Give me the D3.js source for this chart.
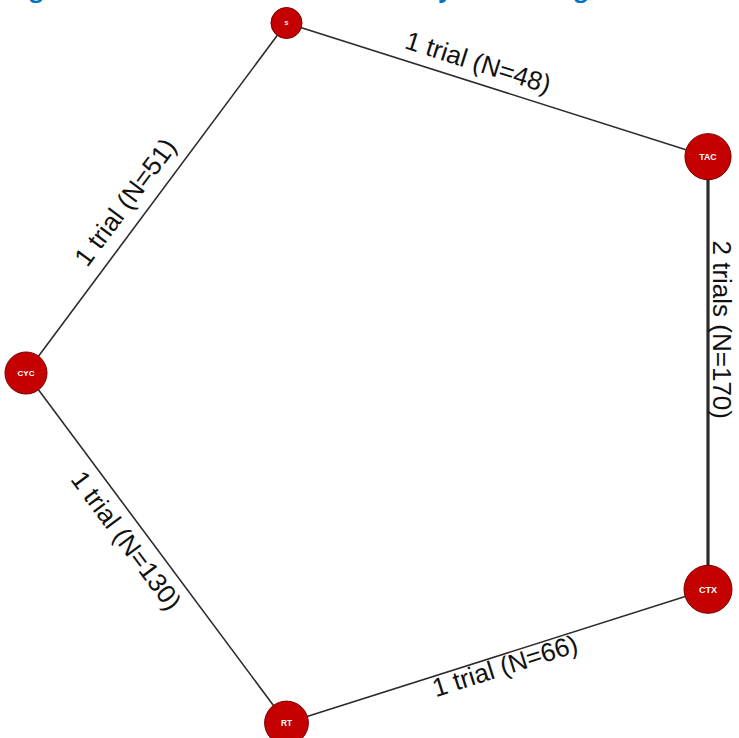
<!DOCTYPE html>
<html>
<head>
<meta charset="utf-8">
<script src="https://cdn.jsdelivr.net/npm/d3@7"></script>
<style>
  html, body { margin: 0; padding: 0; background: #fff; }
  svg { display: block; }
</style>
</head>
<body>
<svg id="chart" width="739" height="738"></svg>
<script>
// Treatments (nodes), placed around the network circle in this order
const treatments = ["CYC", "RT", "CTX", "TAC", "S"];

// Direct comparisons (edges)
const edgeFrom     = ["S",   "CYC", "TAC", "CYC", "RT"];
const edgeTo       = ["TAC", "S",   "CTX", "RT",  "CTX"];
const edgeTrials   = [1, 1, 2, 1, 1];
const edgePatients = [48, 51, 170, 130, 66];

const titleText = "Figure 2: Network of included trials by active drug";

// Where each edge label sits: fraction along the edge and baseline shift
// (negative = above the line in the label's own frame)
const labelAlong = [0.44, 0.45, 0.40, 0.445, 0.51];
const labelShift = [-11.5, -13.5, -5, 28.5, 20.5];

const svg = d3.select("#chart");

// Patients contributing to each treatment
const patientsByNode = new Map(treatments.map(t => [t, 0]));
edgeFrom.forEach((s, i) => {
  patientsByNode.set(s, patientsByNode.get(s) + edgePatients[i]);
  patientsByNode.set(edgeTo[i], patientsByNode.get(edgeTo[i]) + edgePatients[i]);
});

// Circular layout: start at the left, then step by 72 degrees
const angle = d3.scaleLinear().domain([0, treatments.length]).range([Math.PI, -Math.PI]);
const cx = 403, cy = 373, rx = 377, ry = 368;
const nodes = treatments.map((t, i) => {
  const a = angle(i);
  return { id: t, x: cx + rx * Math.cos(a), y: cy + ry * Math.sin(a), n: patientsByNode.get(t) };
});
const byId = new Map(nodes.map(d => [d.id, d]));

const radius = d3.scaleSqrt()
  .domain([0, d3.max(nodes, d => d.n)])
  .range([0, 24]);

const width = d3.scaleLinear().domain([0, 2]).range([0, 3.2]);

const edges = edgeFrom.map((s, i) => ({
  source: byId.get(s), target: byId.get(edgeTo[i]),
  trials: edgeTrials[i], n: edgePatients[i],
  along: labelAlong[i], shift: labelShift[i]
}));

// Title, running off the top edge of the frame
const title = svg.append("text")
  .attr("x", 0).attr("y", -3)
  .attr("font-family", "'Open Sans', 'Noto Sans', sans-serif")
  .attr("font-weight", "bold")
  .attr("font-size", 24)
  .attr("fill", "#0070c0")
  .text(titleText);
{
  // Fit size and start so the title's descender letters land in place
  const el = title.node();
  const idx = [titleText.indexOf("g"), titleText.indexOf("y"), titleText.lastIndexOf("g")];
  const goal = [35, 451, 577];
  const c = idx.map(i => { const b = el.getExtentOfChar(i); return b.x + b.width / 2; });
  const mc = d3.mean(c), mg = d3.mean(goal);
  const s = d3.sum(c, (v, k) => (v - mc) * (goal[k] - mg)) / d3.sum(c, v => (v - mc) ** 2);
  const fs = 24 * s;
  title.attr("font-size", fs).attr("x", mg - s * mc).attr("y", -0.11 * fs);
}

// Edges
svg.append("g").selectAll("line")
  .data(edges).join("line")
  .attr("x1", d => d.source.x).attr("y1", d => d.source.y)
  .attr("x2", d => d.target.x).attr("y2", d => d.target.y)
  .attr("stroke", "#2b2b2b")
  .attr("stroke-width", d => width(d.trials));

// Edge labels, rotated along their edge
svg.append("g").selectAll("text")
  .data(edges).join("text")
  .attr("transform", d => {
    const px = d.source.x + (d.target.x - d.source.x) * d.along;
    const py = d.source.y + (d.target.y - d.source.y) * d.along;
    const deg = Math.atan2(d.target.y - d.source.y, d.target.x - d.source.x) * 180 / Math.PI;
    return `translate(${px},${py}) rotate(${deg})`;
  })
  .attr("y", d => d.shift)
  .attr("text-anchor", "middle")
  .attr("font-family", "'Liberation Sans', Arial, sans-serif")
  .attr("font-size", 26)
  .attr("fill", "#111")
  .text(d => `${d.trials} trial${d.trials > 1 ? "s" : ""} (N=${d.n})`);

// Nodes
const node = svg.append("g").selectAll("g")
  .data(nodes).join("g")
  .attr("transform", d => `translate(${d.x},${d.y})`);

node.append("circle")
  .attr("r", d => radius(d.n))
  .attr("fill", "#c40000")
  .attr("stroke", "#7a0000")
  .attr("stroke-width", 1);

node.append("text")
  .attr("text-anchor", "middle")
  .attr("dy", "0.35em")
  .attr("font-family", "'Liberation Sans', Arial, sans-serif")
  .attr("font-weight", "bold")
  .attr("font-size", d => radius(d.n) * 0.38)
  .attr("fill", "#fff")
  .text(d => d.id);
</script>
</body>
</html>
